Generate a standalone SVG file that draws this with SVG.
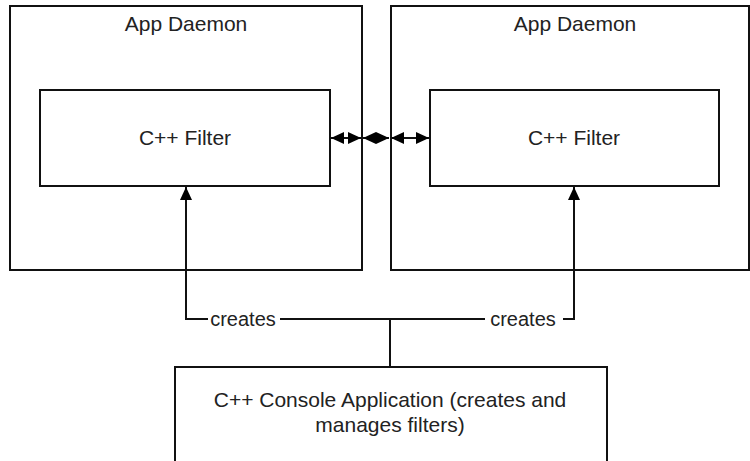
<svg xmlns="http://www.w3.org/2000/svg" width="750" height="461" viewBox="0 0 750 461">
<style>
.box{fill:#fff;stroke:#111;stroke-width:2}
.t{font-family:"Liberation Sans",Arial,sans-serif;font-size:21px;fill:#222;text-anchor:middle}
.c{fill:none;stroke:#111;stroke-width:2}
</style>
<defs>
<marker id="ah" markerUnits="userSpaceOnUse" markerWidth="13" markerHeight="12" refX="13" refY="6" orient="auto-start-reverse" viewBox="0 0 13 12">
<path d="M0,0 L13,6 L0,12 Z" fill="#000"/>
</marker>
</defs>
<rect width="750" height="461" fill="#fff"/>
<g id="daemon-left">
<rect class="box" x="10" y="6" width="352" height="264"/>
<text class="t" x="186" y="31">App Daemon</text>
</g>
<g id="daemon-right">
<rect class="box" x="391" y="6" width="358" height="264"/>
<text class="t" x="575" y="31">App Daemon</text>
</g>
<g id="filter-left">
<rect class="box" x="40" y="90" width="290" height="96"/>
<text class="t" x="185" y="145">C++ Filter</text>
</g>
<g id="filter-right">
<rect class="box" x="430" y="90" width="289" height="96"/>
<text class="t" x="574" y="145">C++ Filter</text>
</g>
<g id="console">
<rect class="box" x="175" y="367" width="432" height="100"/>
<text class="t" x="390" y="407">C++ Console Application (creates and</text>
<text class="t" x="390" y="432">manages filters)</text>
</g>
<g id="connectors">
<line class="c" x1="331" y1="138" x2="361" y2="138" marker-start="url(#ah)" marker-end="url(#ah)"/>
<line class="c" x1="363" y1="138" x2="389" y2="138" marker-start="url(#ah)" marker-end="url(#ah)"/>
<line class="c" x1="391" y1="138" x2="429" y2="138" marker-start="url(#ah)" marker-end="url(#ah)"/>
<polyline class="c" points="208,319 186,319 186,187" marker-end="url(#ah)"/>
<polyline class="c" points="563,319 574,319 574,187" marker-end="url(#ah)"/>
<line class="c" x1="280" y1="319" x2="485" y2="319"/>
<line class="c" x1="390" y1="319" x2="390" y2="367"/>
<text class="t" x="243" y="326" style="font-size:20px">creates</text>
<text class="t" x="523" y="326" style="font-size:20px">creates</text>
</g>
</svg>
